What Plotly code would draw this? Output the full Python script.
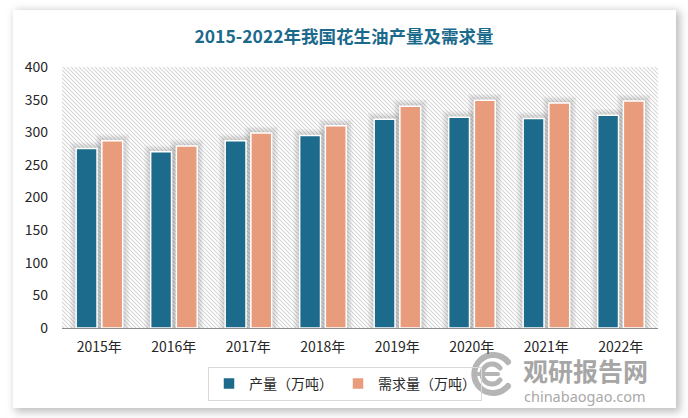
import base64
import plotly.graph_objects as go

# ---- data ----
years = ["2015年", "2016年", "2017年", "2018年", "2019年", "2020年", "2021年", "2022年"]
production = [275, 270, 287, 295, 320, 323, 321, 326]
demand = [287, 279, 299, 310, 340, 349, 345, 348]
series_names = ["产量（万吨）", "需求量（万吨）"]
title_text = "2015-2022年我国花生油产量及需求量"
y_ticks = [0, 50, 100, 150, 200, 250, 300, 350, 400]

# ---- layout geometry ----
W, H = 688, 418
L, R, T, B = 62, 30, 67, 90
PW, PH = W - L - R, H - T - B
YMAX = 400


def pxp(x):
    return (x - L) / PW


def pyp(y):
    return (H - B - y) / PH


BLUE = "#1c6b8d"
ORANGE = "#e89c7c"

# background svg: card drop shadow, hatch in plot area, watermark logo
svg = f'''<svg xmlns="http://www.w3.org/2000/svg" width="{W}" height="{H}" viewBox="0 0 {W} {H}">
<defs>
<filter id="s" x="-5%" y="-5%" width="110%" height="110%"><feGaussianBlur stdDeviation="4"/></filter>
<pattern id="h" width="4" height="4" patternUnits="userSpaceOnUse">
<path d="M-1,-1 L5,5 M-1,3 L1,5 M3,-1 L5,1" stroke="#d6d6d6" stroke-width="1.05"/>
</pattern>
</defs>
<rect x="0" y="0" width="{W}" height="{H}" fill="#ffffff"/>
<rect x="15" y="11" width="665" height="401" fill="#bdbdbd" filter="url(#s)"/>
<rect x="13" y="10" width="663" height="398" fill="#ffffff"/>
<rect x="{L}" y="{T}" width="{PW}" height="{PH}" fill="url(#h)"/>
<g fill="none" stroke="#b5b5b5" stroke-linecap="round">
<path d="M508,362 A19,19 0 1 0 508,386" stroke-width="6"/>
<path d="M500,368 A10,10 0 1 0 500,380" stroke-width="5"/>
<path d="M478,374 L498,374" stroke-width="4"/>
</g>
</svg>'''
svg_uri = "data:image/svg+xml;base64," + base64.b64encode(svg.encode("utf-8")).decode()

fig = go.Figure()

cat_px = PW / len(years)
unit_y = PH / YMAX
bars = [
    (production, BLUE, series_names[0], -0.31, 0.28),
    (demand, ORANGE, series_names[1], 0.035, 0.28),
]

# soft shadows behind bars
for vals, color, name, off, wid in bars:
    for k in (4, 3, 2, 1):
        e = 1.6 * k
        fig.add_trace(go.Bar(
            x=years, y=[v + e / unit_y for v in vals],
            offset=off - e / cat_px, width=wid + 2 * e / cat_px,
            marker=dict(color="rgba(0,0,0,0.04)", line=dict(width=0)),
            showlegend=False, hoverinfo="skip",
        ))

for vals, color, name, off, wid in bars:
    fig.add_trace(go.Bar(
        x=years, y=vals, name=name, offset=off, width=wid,
        marker=dict(color=color, line=dict(color="#ffffff", width=1.5)),
    ))

fig.update_layout(
    width=W, height=H,
    margin=dict(l=L, r=R, t=T, b=B, pad=0),
    paper_bgcolor="#ffffff",
    plot_bgcolor="rgba(0,0,0,0)",
    barmode="overlay",
    font=dict(family="Noto Sans CJK SC, Noto Sans, sans-serif", size=14, color="#262626"),
    title=dict(
        text=f"<b>{title_text}</b>", x=0.5, xref="container", xanchor="center",
        y=1 - 37 / H, yref="container", yanchor="middle",
        font=dict(family="Noto Sans CJK SC", size=17.5, color="#1b6a8c"),
    ),
    xaxis=dict(
        type="category", range=[-0.5, len(years) - 0.5],
        showline=True, linecolor="#8c8c8c", linewidth=1,
        showgrid=False, ticks="", zeroline=False,
        tickfont=dict(size=14, color="#262626"),
        ticklabelstandoff=6,
    ),
    yaxis=dict(
        range=[0, YMAX], tickvals=y_ticks, showgrid=False, zeroline=False,
        showline=False, ticks="", tickfont=dict(size=14, color="#262626"),
        ticklabelstandoff=13,
    ),
    legend=dict(
        orientation="h", x=pxp(345), xanchor="center", y=pyp(384), yanchor="middle",
        bordercolor="#d9d9d9", borderwidth=1, bgcolor="rgba(255,255,255,0)",
        font=dict(size=14, color="#262626"), itemwidth=30, tracegroupgap=0,
    ),
    images=[dict(
        source=svg_uri, xref="paper", yref="paper",
        x=pxp(0), y=pyp(0), sizex=W / PW, sizey=H / PH,
        xanchor="left", yanchor="top", sizing="stretch", layer="below",
    )],
    annotations=[
        dict(text="<b>观研报告网</b>", x=pxp(585), y=pyp(370), xref="paper", yref="paper",
             showarrow=False, font=dict(size=25, color="#a6a6a6", family="Noto Sans CJK SC"),
             xanchor="center", yanchor="middle", borderpad=0),
        dict(text="chinabaogao.com", x=pxp(585), y=pyp(396), xref="paper", yref="paper",
             showarrow=False, font=dict(size=14.5, color="#a9a9a9", family="Noto Sans"),
             xanchor="center", yanchor="middle", borderpad=0),
    ],
)

fig.write_html(
    "out.html",
    config={"displayModeBar": False},
    post_script="document.body.style.margin='0';document.body.style.overflow='hidden';",
)
